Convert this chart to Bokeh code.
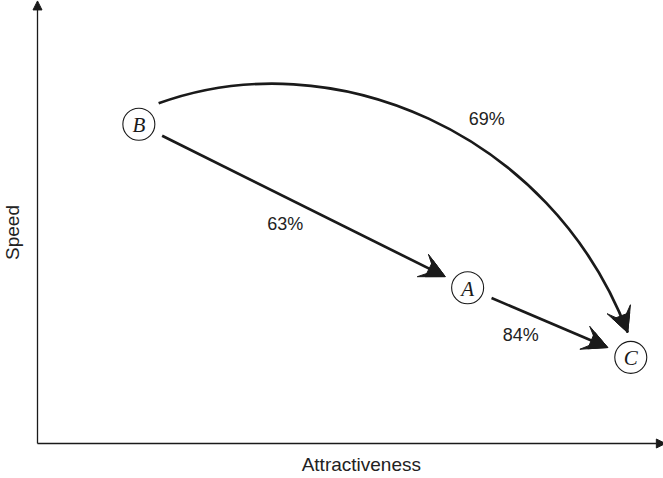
import numpy as np
from bokeh.plotting import figure
from bokeh.models import Range1d, Arrow, NormalHead, VeeHead, ColumnDataSource
from bokeh.core.properties import value
from bokeh.embed import file_html
from bokeh.resources import INLINE

# ---- data (chart units: attractiveness / speed, axes origin at 0,0) ----
node_names = ["B", "A", "C"]
attractiveness = [16.4, 69.6, 96.0]
speed = [73.4, 35.8, 19.8]

link_from = ["B", "A"]
link_to = ["A", "C"]

pct_labels = ["63%", "84%", "69%"]
pct_x = [40.1, 78.2, 72.7]
pct_y = [50.4, 25.0, 74.5]

# curved link B -> C (bezier: start, control1, control2, tip)
curve_x = [19.6, 47.4, 83.0, 95.5]
curve_y = [78.2, 92.6, 72.0, 25.5]

x_axis_label = "Attractiveness"
y_axis_label = "Speed"

# ---- figure ----
W, H = 663, 478
kx, ky = 6.18, 4.35          # pixels per chart unit
ox, oy = 37, 443             # axis origin in pixels
xr = Range1d(-ox / kx, (W - ox) / kx)
yr = Range1d(-(H - oy) / ky, oy / ky)

p = figure(width=W, height=H, x_range=xr, y_range=yr, output_backend="svg",
           toolbar_location=None, x_axis_location=None, y_axis_location=None,
           min_border=0, min_border_left=0, min_border_right=0,
           min_border_top=0, min_border_bottom=0, outline_line_color=None,
           background_fill_color="white", border_fill_color="white")
p.grid.visible = False

ink = "#1a1a1a"

# axes with arrowheads
p.add_layout(Arrow(x_start=0, y_start=0, x_end=0, y_end=oy / ky - 0.1, line_width=1.3,
                   line_color=ink, end=NormalHead(size=9, fill_color=ink, line_color=ink)))
p.add_layout(Arrow(x_start=0, y_start=0, x_end=(W - ox) / kx + 0.3, y_end=0, line_width=1.3,
                   line_color=ink, end=NormalHead(size=9, fill_color=ink, line_color=ink)))


def head_arrow(xs, ys, xe, ye, draw_line=True):
    alpha = 1.0 if draw_line else 0.0
    p.add_layout(Arrow(x_start=xs, y_start=ys, x_end=xe, y_end=ye, line_width=2.7,
                       line_color=ink, line_alpha=alpha,
                       end=VeeHead(size=25, fill_color=ink, line_color=ink, line_width=1)))
    p.add_layout(Arrow(x_start=xs, y_start=ys, x_end=xe, y_end=ye, line_alpha=0,
                       end=NormalHead(size=18, fill_color=ink, line_color=ink, line_width=1)))


# straight links
pos = {n: (x, y) for n, x, y in zip(node_names, attractiveness, speed)}
gap_start, gap_end = 26, 25
for a, b in zip(link_from, link_to):
    x0, y0 = pos[a]
    x1, y1 = pos[b]
    dxp, dyp = (x1 - x0) * kx, (y1 - y0) * ky
    L = np.hypot(dxp, dyp)
    ux, uy = dxp / L, dyp / L
    head_arrow(x0 + ux * gap_start / kx, y0 + uy * gap_start / ky,
               x1 - ux * gap_end / kx, y1 - uy * gap_end / ky)

# curved link
p.bezier(x0=[curve_x[0]], y0=[curve_y[0]], cx0=[curve_x[1]], cy0=[curve_y[1]],
         cx1=[curve_x[2]], cy1=[curve_y[2]], x1=[curve_x[3]], y1=[curve_y[3]],
         line_width=2.7, line_color=ink)
tx = curve_x[3] - 0.05 * (curve_x[3] - curve_x[2])
ty = curve_y[3] - 0.05 * (curve_y[3] - curve_y[2])
head_arrow(tx, ty, curve_x[3], curve_y[3], draw_line=False)

# nodes
src = ColumnDataSource(dict(x=attractiveness, y=speed, name=node_names))
p.scatter("x", "y", source=src, size=32, fill_color="white", line_color=ink, line_width=1.1)
p.text("x", "y", text="name", source=src, text_font=value("Liberation Serif"),
       text_font_style="italic", text_font_size="21px", text_align="center",
       text_baseline="middle", text_color=ink, y_offset=1)

# percentage labels
p.text(pct_x, pct_y, text=pct_labels, text_font=value("Liberation Sans"),
       text_font_size="18px", text_align="center", text_baseline="middle", text_color="#222222")

# axis labels
p.text([52.4], [-4.8], text=[x_axis_label], text_font=value("Liberation Sans"),
       text_font_size="19px", text_align="center", text_baseline="middle", text_color="#222222")
p.text([-4.05], [48.5], text=[y_axis_label], angle=np.pi / 2, text_font=value("Liberation Sans"),
       text_font_size="19px", text_align="center", text_baseline="middle", text_color="#222222")

open("out.html", "w").write(file_html(p, INLINE))
